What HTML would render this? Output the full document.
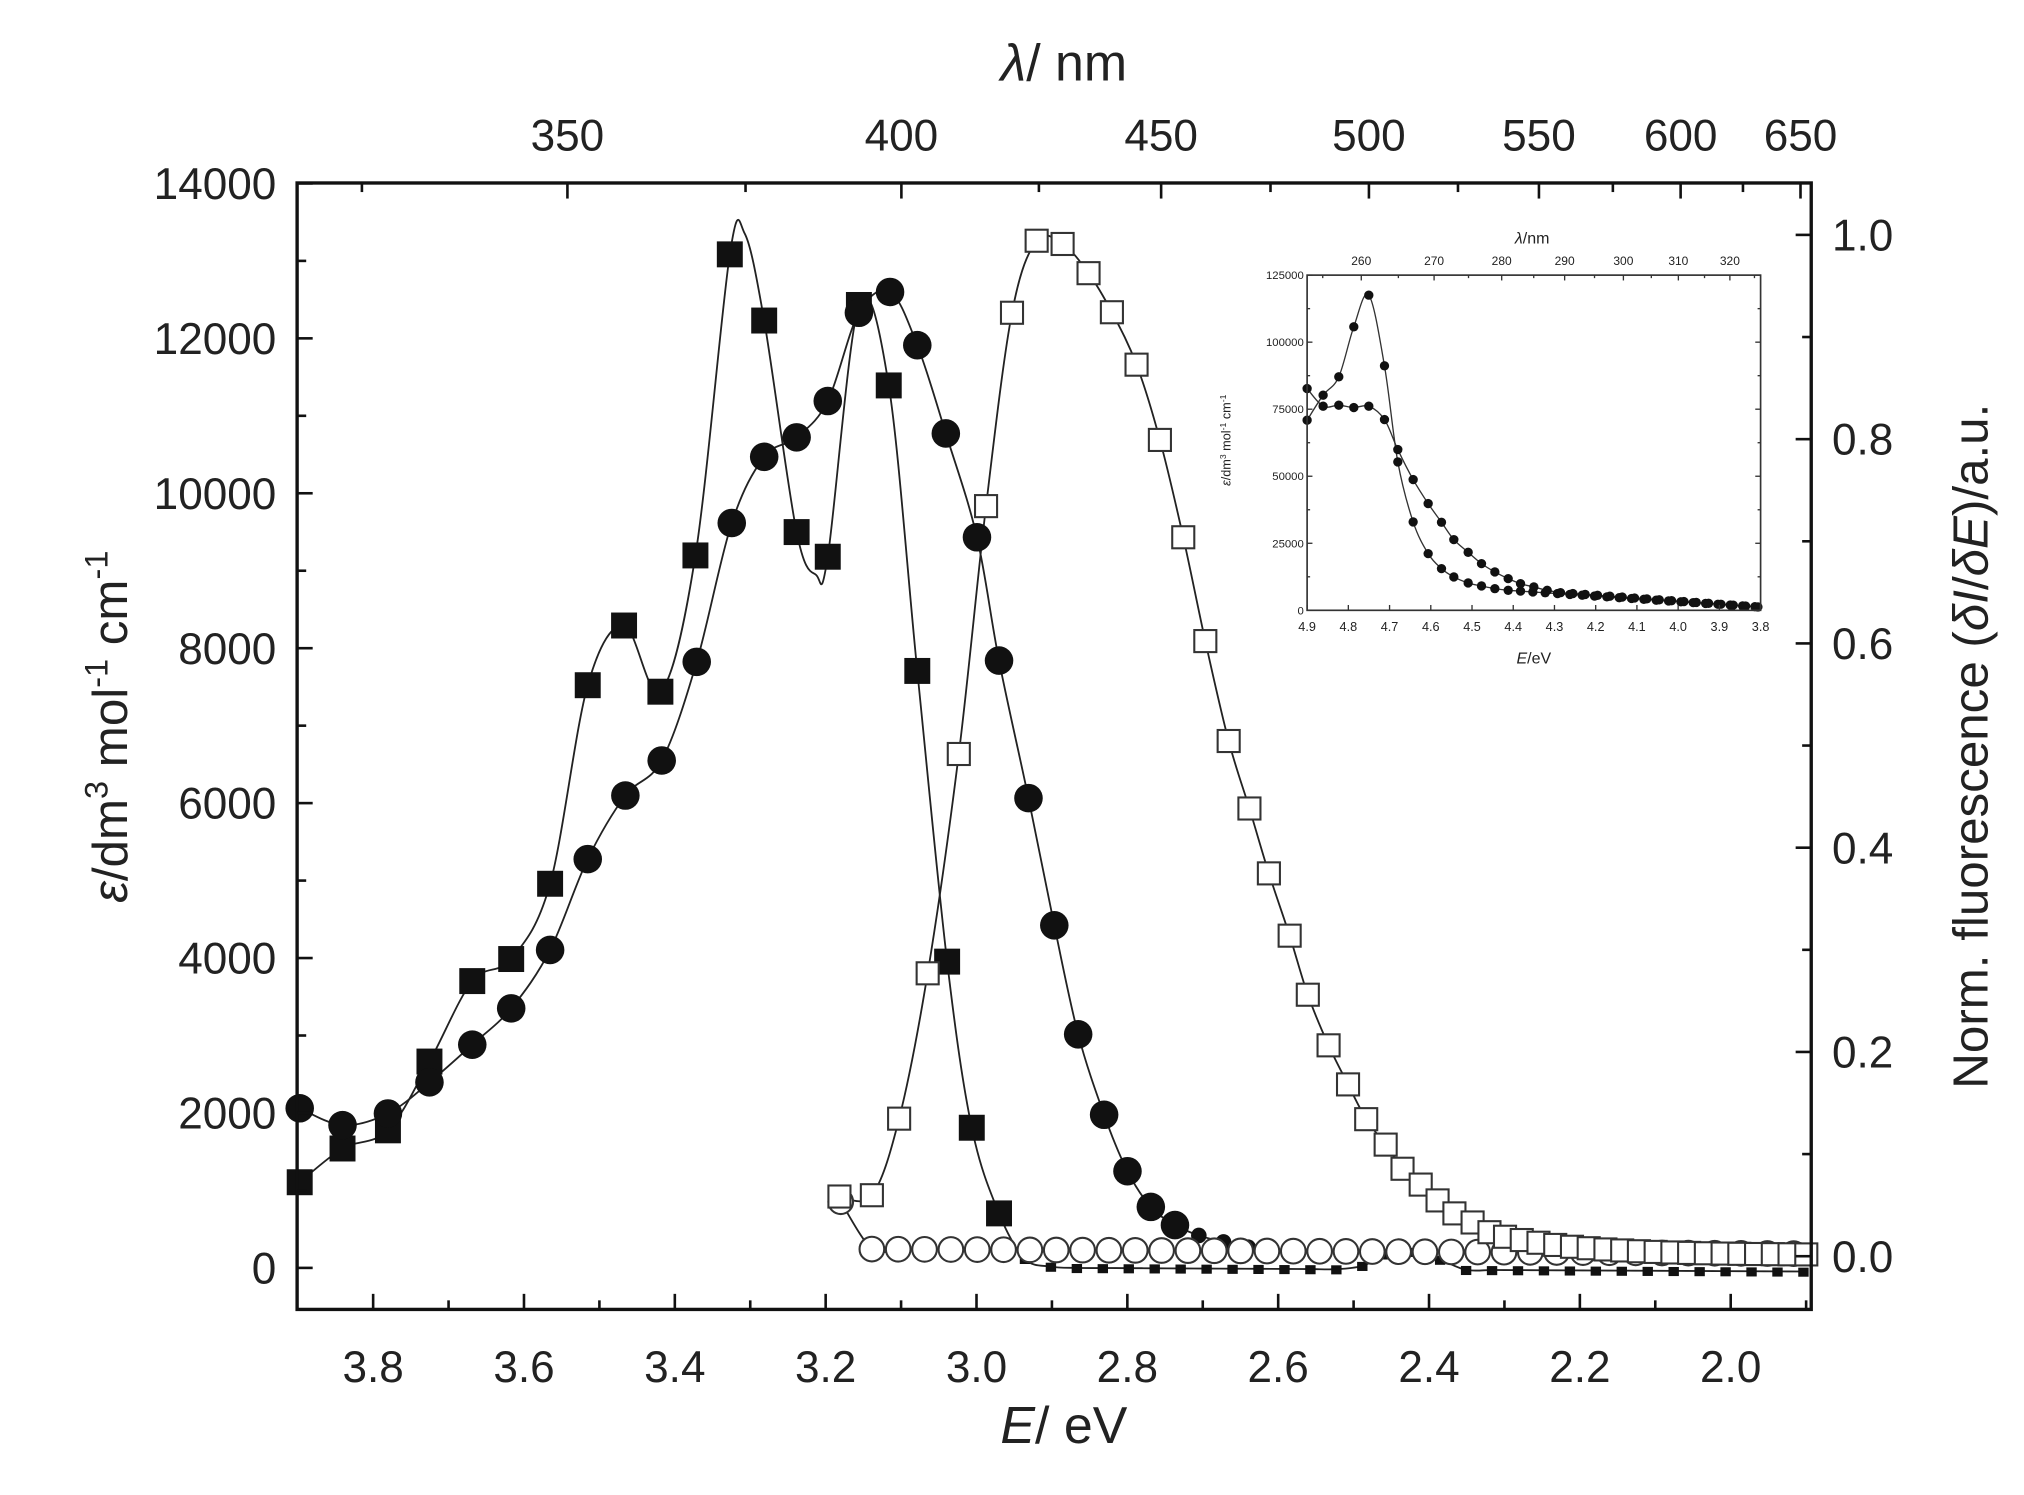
<!DOCTYPE html>
<html><head><meta charset="utf-8"><style>
html,body{margin:0;padding:0;background:#fff;}
svg{display:block;}
text{font-family:"Liberation Sans",Arial,sans-serif;fill:#222;}
</style></head><body>
<svg id="s" width="2024" height="1495" viewBox="0 0 1560 1152" preserveAspectRatio="none" xmlns="http://www.w3.org/2000/svg">
<rect x="0" y="0" width="1560" height="1152" fill="#fff"/>
<g id="main"></g>
<g id="inset" transform="translate(986.9,169.6) scale(0.257)"></g>
</svg>
<script>
const NS="http://www.w3.org/2000/svg";
function el(p,t,a,txt){const e=document.createElementNS(NS,t);for(const k in a)e.setAttribute(k,a[k]);if(txt!==undefined)e.textContent=txt;p.appendChild(e);return e;}
function cr(pts){let d="M"+pts[0][0]+","+pts[0][1];for(let i=0;i<pts.length-1;i++){const p0=pts[Math.max(0,i-1)],p1=pts[i],p2=pts[i+1],p3=pts[Math.min(pts.length-1,i+2)];
const c1=[p1[0]+(p2[0]-p0[0])/6,p1[1]+(p2[1]-p0[1])/6],c2=[p2[0]-(p3[0]-p1[0])/6,p2[1]-(p3[1]-p1[1])/6];
d+=" C"+c1[0].toFixed(1)+","+c1[1].toFixed(1)+" "+c2[0].toFixed(1)+","+c2[1].toFixed(1)+" "+p2[0].toFixed(1)+","+p2[1].toFixed(1);}return d;}
const M=document.getElementById("main");
const L=229,R=1396,T=141,B=1009;
const xE=E=>287.6+(3.8-E)*581.3;
const yEps=v=>977-v*0.05969;
const yF=v=>968-v*787;
const fsq=[[231,911],[264,885],[299,871],[331,818],[364,756],[394,739],[424,681],[453,528],[481,482],[509,533],[536,428],[562.5,196],[574,180,0],[589,247],[614,410],[629,443,0],[638,429],[662,235],[685,297],[707,517],[730,741],[749,869],[770,935],[790,970,0],[810,976,0]];
for(let x=830;x<=1392;x+=20){let y=977+(x-830)*0.005;if(Math.abs(x-1085)<40)y-=14*Math.cos((x-1085)/40*Math.PI/2);fsq.push([x,y,0]);}
const fci=[[231,854],[264,867],[299,858],[331,834],[364,805],[394,777],[424,732],[453,662],[482,613],[510,586],[537,510],[564,403],[589,352],[614,337],[638,309],[662,241],[686,225],[707,266],[729,334],[753,414],[770,509],[792.7,615],[812.6,713],[831,797],[851,859],[869,902.5],[887,930],[905.6,944],[924,952,0],[943,957,0],[962,961,0]];
const osq=[[647,922],[672,921],[693,862],[715,750],[739,581],[760,390],[780,241],[799,185.5],[819,188],[839,210.5],[857,240.6],[876,281],[894,339],[912,414],[929,494],[947,571],[963,623],[978,673],[994,721],[1008,766.5],[1024,805.5],[1039,835.6],[1053,862.4],[1068,882],[1081,900.6],[1095,912.8],[1108,925],[1121,935],[1135,942],[1148,949.5],[1160,953]];
for(let i=1;i<=18;i++){const x=1160+i*12.9;osq.push([x,953+14*(1-Math.exp(-i/5))]);}
const oci=[[648,926]];for(let i=0;i<36;i++){oci.push([672+i*20.3,962.5+i*0.1]);}
const lineA={fill:"none",stroke:"#222","stroke-width":1.4};
el(M,"path",Object.assign({d:cr(fci)},lineA));
el(M,"path",Object.assign({d:cr(fsq)},lineA));
el(M,"path",Object.assign({d:cr(osq)},lineA));
el(M,"path",Object.assign({d:cr(oci)},lineA));
// small near-zero filled markers
fsq.forEach(p=>{if(p[2]===0&&p[0]>780)el(M,"rect",{x:p[0]-4,y:p[1]-3,width:8,height:7,fill:"#111"});});
fci.forEach(p=>{if(p[2]===0)el(M,"circle",{cx:p[0],cy:p[1],r:6,fill:"#111"});});
fsq.forEach(p=>{if(p[2]!==0)el(M,"rect",{x:p[0]-10,y:p[1]-10,width:20,height:20,fill:"#111"});});
fci.forEach(p=>{if(p[2]!==0)el(M,"circle",{cx:p[0],cy:p[1],r:11,fill:"#111"});});
oci.forEach(p=>el(M,"circle",{cx:p[0],cy:p[1],r:9.5,fill:"#fff",stroke:"#333","stroke-width":1.6}));
osq.forEach(p=>el(M,"rect",{x:p[0]-8.5,y:p[1]-8.5,width:17,height:17,fill:"#fff",stroke:"#333","stroke-width":1.6}));
el(M,"rect",{x:L,y:T,width:R-L,height:B-T,fill:"none",stroke:"#111","stroke-width":2.6});
const tk={stroke:"#111","stroke-width":2};
const FS=34;
for(let v=0;v<=14000;v+=1000){const y=yEps(v);const len=v%2000==0?12:7;el(M,"line",Object.assign({x1:L,x2:L+len,y1:y,y2:y},tk));
 if(v%2000==0)el(M,"text",{x:213,y:y+12,"font-size":FS,"text-anchor":"end"},String(v));}
for(let i=0;i<=10;i++){const v=i/10,y=yF(v);const len=i%2==0?12:7;el(M,"line",Object.assign({x1:R,x2:R-len,y1:y,y2:y},tk));
 if(i%2==0)el(M,"text",{x:1412,y:y+12,"font-size":FS},v.toFixed(1));}
for(let i=0;i<=20;i++){const E=3.9-i*0.1;const x=xE(E);if(x<L+2||x>R-2)continue;const maj=Math.round(E*10)%2==0;
 el(M,"line",Object.assign({x1:x,x2:x,y1:B,y2:B-(maj?12:7)},tk));
 if(maj)el(M,"text",{x:x,y:B+56,"font-size":FS,"text-anchor":"middle"},E.toFixed(1));}
for(let lam=325;lam<=650;lam+=25){const x=xE(1239.84/lam);if(x<L+2||x>R-2)continue;const maj=lam%50==0;
 el(M,"line",Object.assign({x1:x,x2:x,y1:T,y2:T+(maj?12:7)},tk));
 if(maj)el(M,"text",{x:x,y:116,"font-size":FS,"text-anchor":"middle"},String(lam));}
const t1=el(M,"text",{x:820,y:62,"font-size":40,"text-anchor":"middle"});t1.innerHTML='<tspan font-style="italic">λ</tspan>/ nm';
const t2=el(M,"text",{x:820,y:1112,"font-size":40,"text-anchor":"middle"});t2.innerHTML='<tspan font-style="italic">E</tspan>/ eV';
const t3=el(M,"text",{x:0,y:0,"font-size":38,"text-anchor":"middle",transform:"translate(98,560) rotate(-90)"});
t3.innerHTML='<tspan font-style="italic">ε</tspan>/dm<tspan dy="-15" font-size="25">3</tspan><tspan dy="15"> mol</tspan><tspan dy="-15" font-size="25">-1</tspan><tspan dy="15"> cm</tspan><tspan dy="-15" font-size="25">-1</tspan>';
const t4=el(M,"text",{x:0,y:0,"font-size":38,"text-anchor":"middle",transform:"translate(1532,575) rotate(-90)"});
t4.innerHTML='Norm. fluorescence (<tspan font-style="italic">δI</tspan>/<tspan font-style="italic">δE</tspan>)/a.u.';
const I=document.getElementById("inset");
const iL=80,iR=1440,iT=165,iB=1170;
const ix=E=>80+(4.9-E)*(1360/1.1);const iy=v=>1170-v*(1005/125000);
const A=[[80,600],[128,525],[175,470],[220,320],[265,225],[312,437],[352,725],[398,905],[443,1000],[483,1045],[520,1070],[563,1088],[603,1097],[643,1105],[683,1110]];
for(let x=720;x<=1435;x+=37)A.push([x,1110+(x-683)/752*50]);
const Bs=[[80,505],[128,558],[175,555],[220,562],[265,558],[312,598],[352,688],[398,778],[443,850],[483,906],[520,958],[563,996],[603,1030],[643,1055],[683,1075],[720,1090],[760,1100],[800,1110],[840,1117]];
for(let x=877;x<=1435;x+=37)Bs.push([x,1117+(x-840)/595*43]);
const iln={fill:"none",stroke:"#333","stroke-width":4};
el(I,"path",Object.assign({d:cr(A)},iln));el(I,"path",Object.assign({d:cr(Bs)},iln));
A.concat(Bs).forEach(p=>el(I,"circle",{cx:p[0],cy:p[1],r:14,fill:"#111"}));
el(I,"rect",{x:iL,y:iT,width:iR-iL,height:iB-iT,fill:"none",stroke:"#333","stroke-width":5});
const itk={stroke:"#333","stroke-width":4};
for(let i=0;i<=11;i++){const x=iL+i*(iR-iL)/11;el(I,"line",Object.assign({x1:x,x2:x,y1:iB,y2:iB-16},itk));
 el(I,"text",{x:x,y:iB+62,"font-size":38,"text-anchor":"middle"},(4.9-i*0.1).toFixed(1));}
for(let v=0;v<=125000;v+=12500){const y=iy(v);const maj=v%25000==0;el(I,"line",Object.assign({x1:iL,x2:iL+(maj?16:9),y1:y,y2:y},itk));el(I,"line",Object.assign({x1:iR,x2:iR-(maj?16:9),y1:y,y2:y},itk));
 if(maj)el(I,"text",{x:iL-10,y:y+12,"font-size":34,"text-anchor":"end"},String(v));}
for(let lam=255;lam<=325;lam+=5){const x=ix(1239.84/lam);if(x<iL||x>iR)continue;el(I,"line",Object.assign({x1:x,x2:x,y1:iT,y2:iT+(lam%10==0?16:9)},itk));
 if(lam%10==0)el(I,"text",{x:x,y:iT-30,"font-size":36,"text-anchor":"middle"},String(lam));}
const it1=el(I,"text",{x:755,y:70,"font-size":48,"text-anchor":"middle"});it1.innerHTML='<tspan font-style="italic">λ</tspan>/nm';
const it2=el(I,"text",{x:760,y:1330,"font-size":48,"text-anchor":"middle"});it2.innerHTML='<tspan font-style="italic">E</tspan>/eV';
const it3=el(I,"text",{x:0,y:0,"font-size":38,"text-anchor":"middle",transform:"translate(-150,660) rotate(-90)"});
it3.innerHTML='<tspan font-style="italic">ε</tspan>/dm<tspan dy="-13" font-size="26">3</tspan><tspan dy="13"> mol</tspan><tspan dy="-13" font-size="26">-1</tspan><tspan dy="13"> cm</tspan><tspan dy="-13" font-size="26">-1</tspan>';
</script>
</body></html>
